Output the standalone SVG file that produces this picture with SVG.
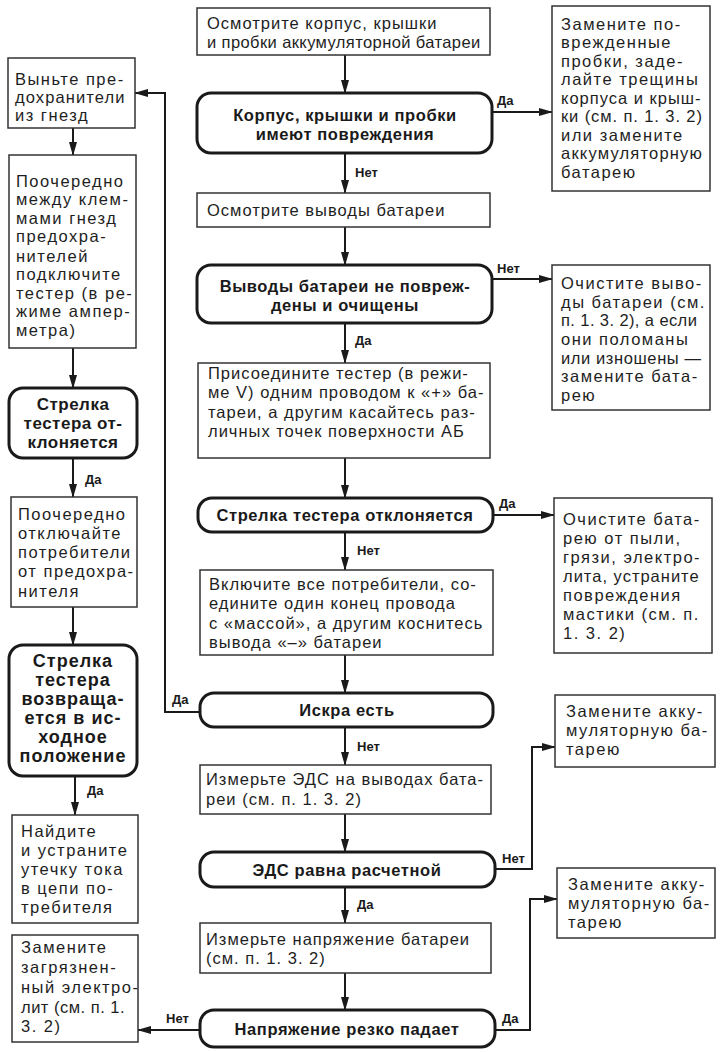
<svg xmlns="http://www.w3.org/2000/svg" width="725" height="1052" viewBox="0 0 725 1052">
<defs>
<marker id="ah" markerWidth="14" markerHeight="10" refX="13" refY="5" orient="auto" markerUnits="userSpaceOnUse">
<path d="M0,1 L14,5 L0,9 z" fill="#1a1a1a"/>
</marker>
<style>
.box{fill:#fff;stroke:#333;stroke-width:1.5}
.dec{fill:#fff;stroke:#1a1a1a;stroke-width:3}
.t{font-family:"Liberation Sans",Arial,sans-serif;font-size:16.5px;letter-spacing:1px;fill:#1e1e1e}
.r{font-family:"Liberation Sans",Arial,sans-serif;font-size:16.5px;letter-spacing:1.5px;fill:#1e1e1e}
.s{font-family:"Liberation Sans",Arial,sans-serif;font-size:16.5px;letter-spacing:1.5px;fill:#1e1e1e}
.b{font-family:"Liberation Sans",Arial,sans-serif;font-size:16.5px;letter-spacing:0.6px;font-weight:bold;fill:#1a1a1a;text-anchor:middle}
.bl{font-family:"Liberation Sans",Arial,sans-serif;font-size:17px;letter-spacing:0.5px;font-weight:bold;fill:#1a1a1a;text-anchor:middle}
.bm{font-family:"Liberation Sans",Arial,sans-serif;font-size:18px;letter-spacing:1px;font-weight:bold;fill:#1a1a1a;text-anchor:middle}
.l{font-family:"Liberation Sans",Arial,sans-serif;font-size:13px;font-weight:bold;fill:#1a1a1a}
.c{fill:none;stroke:#1a1a1a;stroke-width:2}
</style>
</defs>
<rect width="725" height="1052" fill="#fff"/>
<g id="connectors">
<path class="c" d="M345,55 V93" marker-end="url(#ah)"/>
<path class="c" d="M492,112 H552" marker-end="url(#ah)"/>
<path class="c" d="M345,153 V193" marker-end="url(#ah)"/>
<path class="c" d="M345,227 V265" marker-end="url(#ah)"/>
<path class="c" d="M492,279 H552" marker-end="url(#ah)"/>
<path class="c" d="M345,323 V363" marker-end="url(#ah)"/>
<path class="c" d="M345,458 V498" marker-end="url(#ah)"/>
<path class="c" d="M493,515 H554" marker-end="url(#ah)"/>
<path class="c" d="M345,532 V570" marker-end="url(#ah)"/>
<path class="c" d="M345,655 V693" marker-end="url(#ah)"/>
<path class="c" d="M200,712 H165 V93 H135" marker-end="url(#ah)"/>
<path class="c" d="M345,727 V765" marker-end="url(#ah)"/>
<path class="c" d="M345,814 V852" marker-end="url(#ah)"/>
<path class="c" d="M495,869 H532 V747 H555" marker-end="url(#ah)"/>
<path class="c" d="M345,887 V923" marker-end="url(#ah)"/>
<path class="c" d="M345,973 V1010" marker-end="url(#ah)"/>
<path class="c" d="M495,1030 H530 V899 H557" marker-end="url(#ah)"/>
<path class="c" d="M200,1030 H138" marker-end="url(#ah)"/>
<path class="c" d="M73,128 V155" marker-end="url(#ah)"/>
<path class="c" d="M73,348 V388" marker-end="url(#ah)"/>
<path class="c" d="M73,458 V497" marker-end="url(#ah)"/>
<path class="c" d="M73,607 V645" marker-end="url(#ah)"/>
<path class="c" d="M75,776 V815" marker-end="url(#ah)"/>
<text class="l" x="497" y="105">Да</text>
<text class="l" x="355" y="177">Нет</text>
<text class="l" x="497" y="273">Нет</text>
<text class="l" x="355" y="345">Да</text>
<text class="l" x="499" y="508">Да</text>
<text class="l" x="357" y="555">Нет</text>
<text class="l" x="172" y="704">Да</text>
<text class="l" x="357" y="751">Нет</text>
<text class="l" x="502" y="863">Нет</text>
<text class="l" x="357" y="909">Да</text>
<text class="l" x="502" y="1023">Да</text>
<text class="l" x="166" y="1023">Нет</text>
<text class="l" x="85" y="484">Да</text>
<text class="l" x="87" y="795">Да</text>
</g>
<g id="n1">
<rect class="box" x="197" y="8" width="293" height="47"/>
<text class="t" x="207" y="29">Осмотрите корпус, крышки</text>
<text class="t" x="207" y="48" style="letter-spacing:0.4px">и пробки аккумуляторной батареи</text>
</g>
<g id="d1">
<rect class="dec" x="197" y="93" width="295" height="60" rx="14"/>
<text class="b" x="345" y="121">Корпус, крышки и пробки</text>
<text class="b" x="345" y="140">имеют повреждения</text>
</g>
<g id="r1">
<rect class="box" x="552" y="6" width="158" height="185"/>
<text class="r" x="561" y="30">Замените по-</text>
<text class="r" x="561" y="48">врежденные</text>
<text class="r" x="561" y="67">пробки, заде-</text>
<text class="r" x="561" y="85">лайте трещины</text>
<text class="r" x="561" y="104" style="letter-spacing:1px">корпуса и крыш-</text>
<text class="r" x="561" y="122" style="letter-spacing:0.9px">ки (см. п. 1. 3. 2)</text>
<text class="r" x="561" y="141">или замените</text>
<text class="r" x="561" y="159" style="letter-spacing:1.2px">аккумуляторную</text>
<text class="r" x="561" y="178">батарею</text>
</g>
<g id="n2">
<rect class="box" x="197" y="193" width="293" height="34"/>
<text class="t" x="207" y="216">Осмотрите выводы батареи</text>
</g>
<g id="d2">
<rect class="dec" x="197" y="265" width="295" height="58" rx="14"/>
<text class="b" x="345" y="292">Выводы батареи не повреж-</text>
<text class="b" x="345" y="311">дены и очищены</text>
</g>
<g id="r2">
<rect class="box" x="552" y="265" width="158" height="145"/>
<text class="r" x="561" y="289">Очистите выво-</text>
<text class="r" x="561" y="308">ды батареи (см.</text>
<text class="r" x="561" y="326" style="letter-spacing:0.4px">п. 1. 3. 2), а если</text>
<text class="r" x="561" y="345">они поломаны</text>
<text class="r" x="561" y="364" style="letter-spacing:0.6px">или изношены —</text>
<text class="r" x="561" y="382">замените бата-</text>
<text class="r" x="561" y="401">рею</text>
</g>
<g id="n3">
<rect class="box" x="198" y="363" width="292" height="95"/>
<text class="t" x="208" y="379">Присоедините тестер (в режи-</text>
<text class="t" x="208" y="398">ме V) одним проводом к «+» ба-</text>
<text class="t" x="208" y="418">тареи, а другим касайтесь раз-</text>
<text class="t" x="208" y="437">личных точек поверхности АБ</text>
</g>
<g id="d3">
<rect class="dec" x="198" y="498" width="295" height="34" rx="14"/>
<text class="b" x="345" y="521">Стрелка тестера отклоняется</text>
</g>
<g id="r3">
<rect class="box" x="554" y="498" width="158" height="155"/>
<text class="r" x="563" y="525">Очистите бата-</text>
<text class="r" x="563" y="544">рею от пыли,</text>
<text class="r" x="563" y="563">грязи, электро-</text>
<text class="r" x="563" y="582" style="letter-spacing:1px">лита, устраните</text>
<text class="r" x="563" y="601">повреждения</text>
<text class="r" x="563" y="620">мастики (см. п.</text>
<text class="r" x="563" y="639">1. 3. 2)</text>
</g>
<g id="n4">
<rect class="box" x="200" y="570" width="293" height="85"/>
<text class="t" x="209" y="590">Включите все потребители, со-</text>
<text class="t" x="209" y="609">едините один конец провода</text>
<text class="t" x="209" y="629">с «массой», а другим коснитесь</text>
<text class="t" x="209" y="648">вывода «–» батареи</text>
</g>
<g id="d4">
<rect class="dec" x="200" y="693" width="293" height="34" rx="14"/>
<text class="b" x="347" y="716">Искра есть</text>
</g>
<g id="r4">
<rect class="box" x="555" y="695" width="160" height="72"/>
<text class="r" x="566" y="717">Замените акку-</text>
<text class="r" x="566" y="736">муляторную ба-</text>
<text class="r" x="566" y="755">тарею</text>
</g>
<g id="n5">
<rect class="box" x="200" y="765" width="291" height="49"/>
<text class="t" x="206" y="785">Измерьте ЭДС на выводах бата-</text>
<text class="t" x="206" y="805">реи (см. п. 1. 3. 2)</text>
</g>
<g id="d5">
<rect class="dec" x="200" y="852" width="295" height="35" rx="14"/>
<text class="b" x="347" y="876">ЭДС равна расчетной</text>
</g>
<g id="r5">
<rect class="box" x="557" y="868" width="158" height="70"/>
<text class="r" x="568" y="890">Замените акку-</text>
<text class="r" x="568" y="909">муляторную ба-</text>
<text class="r" x="568" y="928">тарею</text>
</g>
<g id="n6">
<rect class="box" x="200" y="923" width="291" height="50"/>
<text class="t" x="206" y="945">Измерьте напряжение батареи</text>
<text class="t" x="206" y="964">(см. п. 1. 3. 2)</text>
</g>
<g id="d6">
<rect class="dec" x="200" y="1010" width="295" height="37" rx="14"/>
<text class="b" x="347" y="1035">Напряжение резко падает</text>
</g>
<g id="l1">
<rect class="box" x="8" y="58" width="127" height="70"/>
<text class="s" x="15" y="85">Выньте пре-</text>
<text class="s" x="15" y="103" style="letter-spacing:1.1px">дохранители</text>
<text class="s" x="15" y="121">из гнезд</text>
</g>
<g id="l2">
<rect class="box" x="9" y="155" width="127" height="193"/>
<text class="s" x="16" y="187">Поочередно</text>
<text class="s" x="16" y="205">между клем-</text>
<text class="s" x="16" y="224">мами гнезд</text>
<text class="s" x="16" y="242">предохра-</text>
<text class="s" x="16" y="262">нителей</text>
<text class="s" x="16" y="280">подключите</text>
<text class="s" x="16" y="299">тестер (в ре-</text>
<text class="s" x="16" y="317">жиме ампер-</text>
<text class="s" x="16" y="336">метра)</text>
</g>
<g id="ld1">
<rect class="dec" x="9" y="388" width="128" height="70" rx="14"/>
<text class="bl" x="73" y="410">Стрелка</text>
<text class="bl" x="73" y="429">тестера от-</text>
<text class="bl" x="73" y="448">клоняется</text>
</g>
<g id="l3">
<rect class="box" x="11" y="497" width="126" height="110"/>
<text class="s" x="18" y="520">Поочередно</text>
<text class="s" x="18" y="539">отключайте</text>
<text class="s" x="18" y="558">потребители</text>
<text class="s" x="18" y="577">от предохра-</text>
<text class="s" x="18" y="597">нителя</text>
</g>
<g id="ld2">
<rect class="dec" x="9" y="645" width="128" height="131" rx="14"/>
<text class="bm" x="73" y="667">Стрелка</text>
<text class="bm" x="73" y="686">тестера</text>
<text class="bm" x="73" y="705">возвраща-</text>
<text class="bm" x="73" y="724">ется в ис-</text>
<text class="bm" x="73" y="743">ходное</text>
<text class="bm" x="73" y="762">положение</text>
</g>
<g id="l4">
<rect class="box" x="12" y="815" width="126" height="108"/>
<text class="s" x="21" y="837">Найдите</text>
<text class="s" x="21" y="856">и устраните</text>
<text class="s" x="21" y="875">утечку тока</text>
<text class="s" x="21" y="894">в цепи по-</text>
<text class="s" x="21" y="913">требителя</text>
</g>
<g id="l5">
<rect class="box" x="12" y="935" width="126" height="107"/>
<text class="s" x="21" y="953">Замените</text>
<text class="s" x="21" y="973">загрязнен-</text>
<text class="s" x="21" y="993">ный электро-</text>
<text class="s" x="21" y="1013" style="letter-spacing:0.5px">лит (см. п. 1.</text>
<text class="s" x="21" y="1032">3. 2)</text>
</g>
</svg>
